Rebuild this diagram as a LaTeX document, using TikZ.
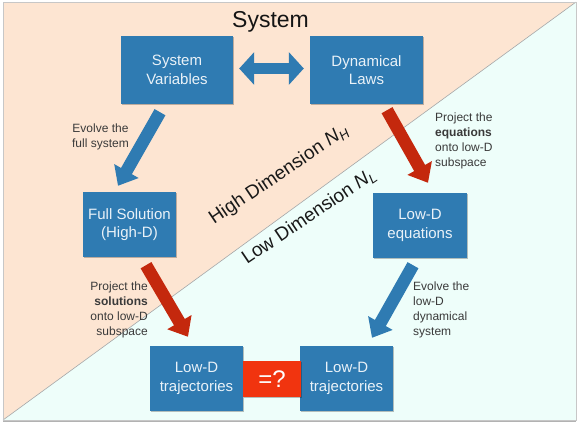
\documentclass[tikz,border=0pt]{standalone}
\usepackage{fontspec}
\setmainfont{Liberation Sans}
\usetikzlibrary{arrows.meta,calc,shadows}
\definecolor{peach}{HTML}{FDE5D2}
\definecolor{mint}{HTML}{EEFEFA}
\definecolor{boxblue}{HTML}{2F7BB2}
\definecolor{arrred}{HTML}{C4280D}
\definecolor{eqred}{HTML}{F1340F}
\definecolor{labgray}{HTML}{3A3A3A}
\definecolor{boxtext}{HTML}{EAF2F8}
\tikzset{
  bluebox/.style={fill=boxblue, text=boxtext, align=center, inner sep=0pt,
    font=\fontsize{15}{18.5}\selectfont,
    drop shadow={shadow xshift=0.8pt, shadow yshift=-1.2pt, opacity=0.25, fill=black}},
  fatarrow/.style={line width=12.5pt, line cap=butt,
    -{Triangle[length=17pt, width=27pt]}},
  bluearr/.style={fatarrow, draw=boxblue},
  redarr/.style={fatarrow, draw=arrred},
  lab/.style={inner sep=0pt, text=labgray, font=\fontsize{12}{15}\selectfont},
  diag/.style={inner sep=0pt, rotate=34, anchor=base west, text=black!90,
    font=\fontsize{19}{22}\selectfont}
}
\begin{document}
\begin{tikzpicture}[x=1pt,y=-1pt]
\useasboundingbox (0,0) rectangle (580,424);
\fill[white] (0,0) rectangle (580,424);
% background halves
\fill[peach] (3,2) -- (576,2) -- (3,420) -- cycle;
\fill[mint] (576,2) -- (576,420) -- (3,420) -- cycle;
\draw[black!35, line width=0.6pt] (3,420) -- (576,2);
\draw[black!22, line width=0.8pt] (3,2) rectangle (576,420);
\draw[black!30, line width=0.8pt] (3,421) -- (576,421);

% title
\node[inner sep=0pt, font=\fontsize{23}{26}\selectfont, text=black!92] (title) at (270.5,22) {System};

% diagonal labels
\node[diag] (high) at (214,225) {High Dimension {\itshape N}\textsubscript{\itshape H}};
\node[diag] (low) at (247,265) {Low Dimension {\itshape N}\textsubscript{\itshape L}};

% boxes
\node[bluebox, minimum width=112pt, minimum height=68pt] (sv) at (177,70) {System\\Variables};
\node[bluebox, minimum width=113pt, minimum height=68pt] (dl) at (366.5,70) {Dynamical\\Laws};
\node[bluebox, minimum width=93pt, minimum height=65pt] (fs) at (129.5,224.5) {Full Solution\\(High-D)};
\node[bluebox, minimum width=94pt, minimum height=65pt] (le) at (420,225.5) {Low-D\\equations};
\node[bluebox, minimum width=93pt, minimum height=65pt] (lt1) at (196.5,378.5) {Low-D\\trajectories};
\node[bluebox, minimum width=93pt, minimum height=65pt] (lt2) at (346.5,378.5) {Low-D\\trajectories};
\node[fill=eqred, text=white, inner sep=0pt, minimum width=58pt, minimum height=36pt,
  font=\fontsize{24}{26}\selectfont,
  drop shadow={shadow xshift=0.8pt, shadow yshift=-1.2pt, opacity=0.25, fill=black}] (eq) at (272,379) {=?};

% arrows
\draw[draw=boxblue, line width=11pt, line cap=butt,
  {Triangle[length=15pt, width=32pt]}-{Triangle[length=15pt, width=32pt]}]
  ($(sv.east)+(6,-1.5)$) -- ($(dl.west)+(-6,-1.5)$);
\draw[bluearr] ($(sv.south)+(-17,8)$) -- ($(fs.north)+(-11.5,-6)$);
\draw[redarr] ($(dl.south)+(20.5,6)$) -- ($(le.north)+(8,-10)$);
\draw[redarr] ($(fs.south)+(16.5,8)$) -- ($(lt1.north)+(-8.5,-9)$);
\draw[bluearr] ($(le.south)+(-7,7)$) -- ($(lt2.north)+(25.5,-8)$);

% labels
\node[lab, align=center] (l1) at (100.5,137) {Evolve the\\full system};
\node[lab, align=left, anchor=west] (l2) at (435,140.5) {Project the\\\textbf{equations}\\onto low-D\\subspace};
\node[lab, align=right, anchor=east] (l3) at (148,310) {Project the\\\textbf{solutions}\\onto low-D\\subspace};
\node[lab, align=left, anchor=west] (l4) at (413,310) {Evolve the\\low-D\\dynamical\\system};
\end{tikzpicture}
\end{document}
